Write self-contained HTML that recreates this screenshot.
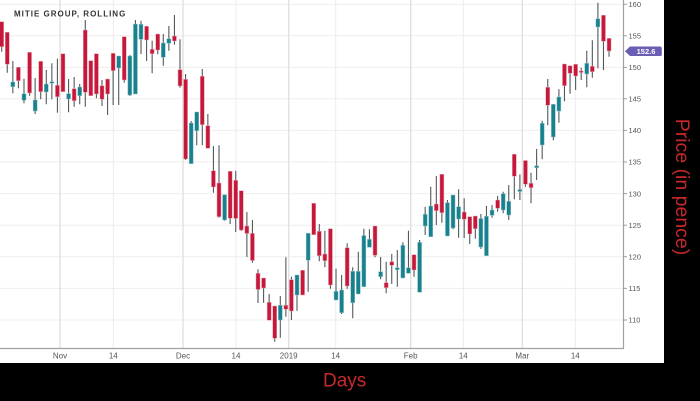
<!DOCTYPE html>
<html><head><meta charset="utf-8"><style>
html,body{margin:0;padding:0;background:#000;width:700px;height:401px;overflow:hidden}
svg{display:block}
</style></head><body>
<svg width="700" height="401" viewBox="0 0 700 401" xmlns="http://www.w3.org/2000/svg">
<rect x="0" y="0" width="700" height="401" fill="#000"/>
<rect x="0" y="0" width="664" height="363" fill="#fff"/>
<path stroke="#eeeeee" stroke-width="1" d="M0 320H623M0 288.4H623M0 256.8H623M0 225.2H623M0 193.6H623M0 162H623M0 130.4H623M0 98.8H623M0 67.4H623M0 35.8H623M0 4.2H623"/>
<path stroke="#dddddd" stroke-width="1.2" d="M60 0V348M183 0V348M288.7 0V348M410.7 0V348M522.3 0V348"/>
<path stroke="#ececec" stroke-width="1" d="M113.3 0V348M236 0V348M335.7 0V348M463.3 0V348M575.3 0V348"/>
<path fill="none" stroke="#52595d" stroke-width="1.1" d="M1.7 21.7V51.7M7.27 32.3V72.7M12.84 61V93.3M18.42 67.3V88.3M23.99 78.7V103.3M29.56 52.3V95.7M35.13 78V114M40.7 61.3V99.3M46.28 70V104.3M51.85 63.3V99.3M57.42 58.7V112.7M62.99 53.7V91.7M68.56 79V112.3M74.14 77V106.7M79.71 84V104.3M85.28 20V106.7M90.85 60.7V95.7M96.42 53.7V98.3M102 80V106M107.57 79V115M113.14 53.3V105M118.71 56V105M124.28 36.7V82.7M129.86 55V96M135.43 20V94M141 20.7V54M146.57 26.3V61M152.14 40.7V73.3M157.72 34V54.3M163.29 34V65.7M168.86 26V50.7M174.43 15V44.7M180 39.3V87.7M185.58 74V160M191.15 121V163.7M196.72 112V145.3M202.29 69V145.3M207.86 114V148.3M213.44 146V192.7M219.01 145.3V217.7M224.58 194.7V220.7M230.15 171.3V224M235.72 170.7V232M241.3 190.7V231M246.87 212V257M252.44 220V262.7M258.01 269.3V303M263.58 278V302.7M269.16 294V320.3M274.73 306V341.7M280.3 296V337.7M285.87 257.3V316.7M291.44 276.7V320M297.02 275V310.7M302.59 270.3V295M308.16 233.3V291.7M313.73 203.3V234.7M319.3 224V261.3M324.88 230.7V267.3M330.45 228.7V288.7M336.02 268.7V300M341.59 275V314M347.16 243.3V288.7M352.74 267.3V318.3M358.31 251.7V294M363.88 228.7V286.7M369.45 229.3V247.3M375.02 226V257.3M380.6 257V279.3M386.17 261.7V293.3M391.74 254V284M397.31 250V286.7M402.88 242.3V278M408.46 230.7V273.3M414.03 254.7V276.7M419.6 240V292.3M425.17 206.7V235M430.74 186.7V236.7M436.32 176V225M441.89 174.3V222.7M447.46 200V236M453.03 195V229.3M458.6 189.3V237.7M464.18 198.3V238M469.75 216.7V244M475.32 216V238.7M480.89 214V249M486.46 206V255.7M492.04 205V217.7M497.61 196V211.7M503.18 191.7V213.3M508.75 185V220M514.32 154.2V199.3M519.9 174.5V200M525.47 160.5V186.7M531.04 172.7V203.3M536.61 149V180M542.18 120.7V159.3M547.76 79V125.3M553.33 104.3V140.3M558.9 89.3V122.7M564.47 64V101.3M570.04 65.7V93.7M575.62 64.3V90M581.19 67.7V80M586.76 50.7V87.3M592.33 40.3V77.7M597.9 2.7V68.3M603.48 15.2V70M609.05 38.3V56.7"/>
<path fill="#c6183a" stroke="#e7a0ad" stroke-width="0.5" d="M-0.3 21.7h4v25h-4zM5.27 32.3h4v32h-4zM16.42 67.3h4v13.4h-4zM27.56 52.3h4v40.7h-4zM38.7 61.3h4v30.4h-4zM55.42 85.3h4v11.4h-4zM60.99 53.7h4v38h-4zM72.14 88.7h4v12h-4zM83.28 30h4v62.3h-4zM88.85 60.7h4v35h-4zM94.42 53.7h4v40.3h-4zM100 85.7h4v13.6h-4zM105.57 79h4v15h-4zM111.14 53.3h4v17.4h-4zM122.28 36.7h4v43.3h-4zM144.57 26.3h4v13.7h-4zM150.14 49.3h4v4.4h-4zM155.72 34h4v16h-4zM172.43 36h4v5h-4zM178 69.7h4v16.3h-4zM183.58 79.3h4v79.7h-4zM200.29 76.3h4v48.4h-4zM205.86 125.7h4v22.6h-4zM211.44 170.7h4v16.3h-4zM217.01 183h4v33.7h-4zM228.15 171.3h4v47h-4zM233.72 180.3h4v38.2h-4zM239.3 190.7h4v39.3h-4zM244.87 226h4v7.5h-4zM250.44 233.3h4v27.2h-4zM256.01 273.3h4v16.2h-4zM261.58 278h4v10h-4zM267.16 302.3h4v18h-4zM272.73 306h4v32.3h-4zM283.87 305.3h4v4h-4zM289.44 279.7h4v31.3h-4zM300.59 270.3h4v24.7h-4zM311.73 203.3h4v31.4h-4zM317.3 231.3h4v24.4h-4zM322.88 254h4v6.7h-4zM328.45 228.7h4v56.3h-4zM345.16 247.7h4v38.3h-4zM373.02 226h4v29.3h-4zM384.17 282.7h4v5h-4zM389.74 261.7h4v3.6h-4zM412.03 254.7h4v15.3h-4zM434.32 204h4v6.7h-4zM439.89 174.3h4v38.4h-4zM462.18 212h4v7.3h-4zM467.75 216.7h4v17.3h-4zM473.32 216h4v12.7h-4zM495.61 200h4v8.3h-4zM512.32 154.2h4v22.1h-4zM523.47 160.5h4v23.7h-4zM529.04 183.3h4v4.4h-4zM545.76 87.3h4v18h-4zM562.47 64h4v21.7h-4zM568.04 65.7h4v7.6h-4zM573.62 64.3h4v11.7h-4zM579.19 71h4v1.5h-4zM590.33 66.3h4v5.4h-4zM601.48 15.2h4v26.1h-4zM607.05 38.3h4v12.7h-4z"/>
<path fill="#19808d" stroke="#8cc4cb" stroke-width="0.5" d="M10.84 82h4v4.7h-4zM21.99 93.7h4v6.6h-4zM33.13 100h4v11h-4zM44.28 84h4v8h-4zM49.85 81.7h4v1.6h-4zM66.56 93.7h4v5.3h-4zM77.71 87h4v8.7h-4zM116.71 56h4v12h-4zM127.86 56h4v39h-4zM133.43 24h4v70h-4zM139 24.3h4v15h-4zM161.29 43h4v14.3h-4zM166.86 38.7h4v4.6h-4zM189.15 123h4v40.7h-4zM194.72 112h4v18.7h-4zM222.58 194.7h4v25.3h-4zM278.3 305.3h4v14.7h-4zM295.02 275h4v20h-4zM306.16 233.3h4v27h-4zM334.02 291.3h4v8.7h-4zM339.59 290h4v22.7h-4zM350.74 271.3h4v31.4h-4zM356.31 271.3h4v22.7h-4zM361.88 235.5h4v51.2h-4zM367.45 239.3h4v8h-4zM378.6 271.7h4v5h-4zM395.31 267.7h4v2h-4zM400.88 245.3h4v32.7h-4zM406.46 267.7h4v5.6h-4zM417.6 242.3h4v50h-4zM423.17 214.3h4v11.7h-4zM428.74 206h4v30.7h-4zM445.46 202.7h4v33.3h-4zM451.03 195h4v33h-4zM456.6 206.7h4v12.3h-4zM478.89 218.5h4v28.5h-4zM484.46 216.2h4v39.5h-4zM490.04 210h4v5.3h-4zM501.18 193.7h4v16.3h-4zM506.75 201.3h4v13.7h-4zM517.9 189.5h4v2h-4zM534.61 165.7h4v2h-4zM540.18 123.3h4v21.7h-4zM551.33 104.3h4v32.7h-4zM556.9 97h4v14h-4zM584.76 63.3h4v10.7h-4zM595.9 18.7h4v8.3h-4z"/>
<path fill="none" stroke="#a0a0a0" stroke-width="1.2" d="M623.5 0V348.5M0 348.5H624"/>
<path stroke="#a0a0a0" stroke-width="1" d="M623.5 320H627M623.5 288.4H627M623.5 256.8H627M623.5 225.2H627M623.5 193.6H627M623.5 162H627M623.5 130.4H627M623.5 98.8H627M623.5 67.4H627M623.5 35.8H627M623.5 4.2H627"/>
<g font-family="'Liberation Sans', sans-serif" font-size="7.5" fill="#555">
<text x="628.5" y="322.7">110</text>
<text x="628.5" y="291.1">115</text>
<text x="628.5" y="259.5">120</text>
<text x="628.5" y="227.9">125</text>
<text x="628.5" y="196.3">130</text>
<text x="628.5" y="164.7">135</text>
<text x="628.5" y="133.1">140</text>
<text x="628.5" y="101.5">145</text>
<text x="628.5" y="70.1">150</text>
<text x="628.5" y="38.5">155</text>
<text x="628.5" y="7">160</text>
</g>
<g font-family="'Liberation Sans', sans-serif" font-size="8" fill="#555" text-anchor="middle">
<text x="60" y="358.6">Nov</text>
<text x="113.3" y="358.6">14</text>
<text x="183" y="358.6">Dec</text>
<text x="236" y="358.6">14</text>
<text x="288.7" y="358.6">2019</text>
<text x="335.7" y="358.6">14</text>
<text x="410.7" y="358.6">Feb</text>
<text x="463.3" y="358.6">14</text>
<text x="522.3" y="358.6">Mar</text>
<text x="575.3" y="358.6">14</text>
</g>
<path d="M625 51.3L630 46.5H660Q661.8 46.5 661.8 48.3V54.2Q661.8 56 660 56H630Z" fill="#6a5db4"/>
<text x="646" y="54.2" text-anchor="middle" font-family="'Liberation Sans', sans-serif" font-size="7.5" font-weight="bold" fill="#fff">152.6</text>
<text x="14" y="16.7" font-family="'Liberation Sans', sans-serif" font-size="8" font-weight="bold" letter-spacing="1" fill="#333">MITIE GROUP, ROLLING</text>
<text x="323" y="386.7" font-family="'Liberation Sans', sans-serif" font-size="19" fill="#c8282c">Days</text>
<text transform="translate(676,187) rotate(90)" text-anchor="middle" font-family="'Liberation Sans', sans-serif" font-size="19.5" fill="#c8282c">Price (in pence)</text>
</svg>
</body></html>
